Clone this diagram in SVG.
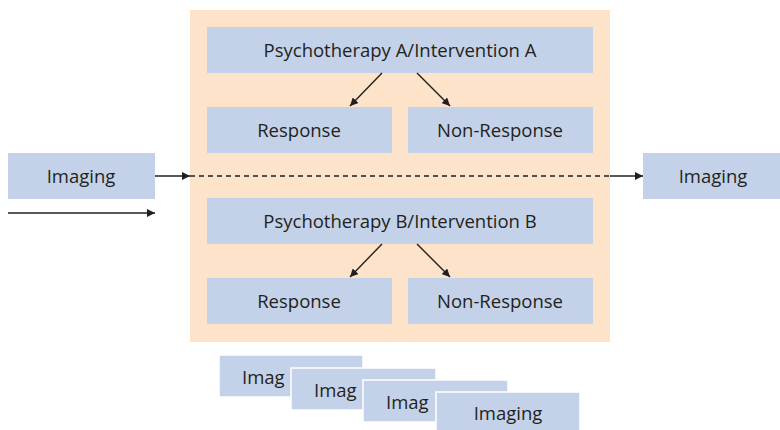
<svg xmlns="http://www.w3.org/2000/svg" width="780" height="430" viewBox="0 0 780 430">
<defs>
<style>
.box{fill:#c4d2e9}
.sbox{fill:#c4d2e9;stroke:#ffffff;stroke-width:1.5}
.t{font-family:"Open Sans","Noto Sans",sans-serif;font-size:18.5px;fill:#231f20;text-anchor:middle;dominant-baseline:central}
.ts{text-anchor:start}
.ln{stroke:#231f20;stroke-width:1.4;fill:none}
</style>
<marker id="ah" viewBox="0 0 10 10" refX="10" refY="5" markerWidth="8" markerHeight="8" orient="auto" markerUnits="userSpaceOnUse">
<path d="M0,0 L10,5 L0,10 z" fill="#231f20"/>
</marker>
</defs>
<rect x="190" y="10" width="420" height="332" fill="#fce3c9"/>
<g id="psyA"><rect class="box" x="207" y="27" width="386" height="46"/><text class="t" x="400" y="49.5">Psychotherapy A/Intervention A</text></g>
<g id="respA"><rect class="box" x="207" y="107" width="185" height="46"/><text class="t" x="299" y="129.5">Response</text></g>
<g id="nonA"><rect class="box" x="408" y="107" width="185" height="46"/><text class="t" x="500" y="129.5">Non-Response</text></g>
<g id="psyB"><rect class="box" x="207" y="198" width="386" height="46"/><text class="t" x="400" y="220.5">Psychotherapy B/Intervention B</text></g>
<g id="respB"><rect class="box" x="207" y="278" width="185" height="46"/><text class="t" x="299" y="300.5">Response</text></g>
<g id="nonB"><rect class="box" x="408" y="278" width="185" height="46"/><text class="t" x="500" y="300.5">Non-Response</text></g>
<g id="imgL"><rect class="box" x="8" y="153" width="147" height="46"/><text class="t" x="81" y="175.5">Imaging</text></g>
<g id="imgR"><rect class="box" x="643" y="153" width="137" height="46"/><text class="t" x="713" y="175.5">Imaging</text></g>
<g id="stack">
<g id="s1"><rect class="sbox" x="219" y="355" width="144" height="42"/><text class="t ts" x="242" y="376.5">Imag</text></g>
<g id="s2"><rect class="sbox" x="291" y="368" width="145" height="42"/><text class="t ts" x="314" y="389.5">Imag</text></g>
<g id="s3"><rect class="sbox" x="363" y="380" width="145" height="42"/><text class="t ts" x="386" y="401.5">Imag</text></g>
<g id="s4"><rect class="sbox" x="436" y="392" width="144" height="42"/><text class="t" x="508" y="412.5">Imaging</text></g>
</g>
<g id="connectors">
<line class="ln" x1="155" y1="176" x2="190" y2="176" marker-end="url(#ah)"/>
<line class="ln" x1="190" y1="176" x2="610" y2="176" stroke-dasharray="5,4"/>
<line class="ln" x1="610" y1="176" x2="643" y2="176" marker-end="url(#ah)"/>
<line class="ln" x1="8" y1="213" x2="155" y2="213" marker-end="url(#ah)"/>
<line class="ln" x1="382" y1="73" x2="350" y2="106" marker-end="url(#ah)"/>
<line class="ln" x1="417" y1="73" x2="450" y2="106" marker-end="url(#ah)"/>
<line class="ln" x1="382" y1="244" x2="350" y2="277" marker-end="url(#ah)"/>
<line class="ln" x1="417" y1="244" x2="450" y2="277" marker-end="url(#ah)"/>
</g>
</svg>
